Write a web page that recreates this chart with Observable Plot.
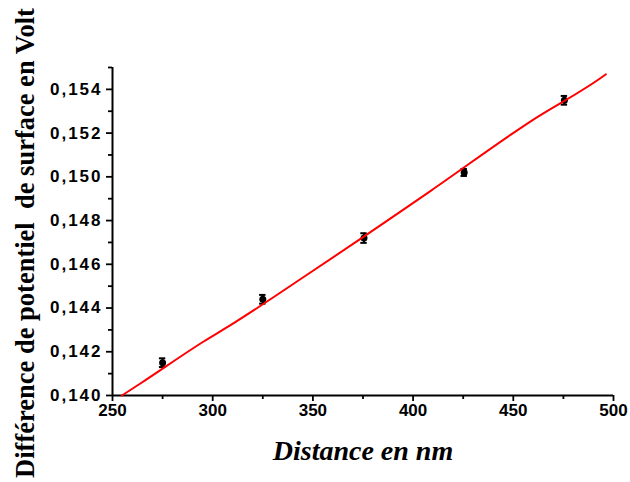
<!DOCTYPE html>
<html>
<head>
<meta charset="utf-8">
<script src="https://cdn.jsdelivr.net/npm/d3@7"></script>
<script src="https://cdn.jsdelivr.net/npm/@observablehq/plot@0.6"></script>
<style>
  html, body { margin: 0; padding: 0; background: #fff; }
  #chart { width: 630px; height: 482px; }
</style>
</head>
<body>
<div id="chart"></div>
<script>
// Measured points (distance in nm, potential difference in V) with error bars
const distance = [275, 325, 375.5, 425.5, 475.5];
const potential = [0.1415, 0.1444, 0.1472, 0.1502, 0.1535];
const errorBar = [0.0002, 0.0002, 0.00022, 0.00016, 0.0002];

// Red fitted curve
const fitDistance = [254.7, 264.1, 295.5, 309.1, 349.5, 408.8, 458.7, 493.6, 496.2];
const fitPotential = [0.1400, 0.14056, 0.14247, 0.14323, 0.14567, 0.14936, 0.15254, 0.15452, 0.15469];

// Axis ticks
const xTicks = [250, 300, 350, 400, 450, 500];
const xMinorTicks = [275, 325, 375, 425, 475];
const yTicks = [0.140, 0.142, 0.144, 0.146, 0.148, 0.150, 0.152, 0.154];
const yMinorTicks = [0.141, 0.143, 0.145, 0.147, 0.149, 0.151, 0.153, 0.155];

const xTitle = "Distance en nm";
const yTitle = "Différence de potentiel  de surface en Volt";

const points = distance.map((x, i) => ({x, y: potential[i], e: errorBar[i]}));
const fit = fitDistance.map((x, i) => ({x, y: fitPotential[i]}));

const tickFont = {fontSize: 17, fontWeight: "bold", fontFamily: "Liberation Sans, Arial, sans-serif", fill: "#000"};

const svg = Plot.plot({
  width: 630,
  height: 482,
  marginLeft: 112,
  marginRight: 17,
  marginTop: 67,
  marginBottom: 87,
  style: {background: "#fff", overflow: "visible"},
  x: {domain: [250, 500], label: null},
  y: {domain: [0.140, 0.155], label: null},
  marks: [
    Plot.axisX({ticks: xTicks, tickSize: 6, tickPadding: 2, strokeWidth: 1.8, stroke: "#000", label: null, ...tickFont}),
    Plot.axisX({ticks: xMinorTicks, tickSize: 4, strokeWidth: 1.8, stroke: "#000", label: null, tickFormat: () => ""}),
    Plot.axisY({ticks: yTicks, tickSize: 6, tickPadding: 4, strokeWidth: 1.8, stroke: "#000", label: null,
      tickFormat: d => d3.format(".3f")(d).replace(".", ","), ...tickFont}),
    Plot.axisY({ticks: yMinorTicks, tickSize: 4, strokeWidth: 1.8, stroke: "#000", label: null, tickFormat: () => ""}),
    Plot.ruleY([0.140], {stroke: "#000", strokeWidth: 2}),
    Plot.ruleX([250], {stroke: "#000", strokeWidth: 2}),
    Plot.ruleX(points, {x: "x", y1: d => d.y - d.e, y2: d => d.y + d.e, stroke: "#000", strokeWidth: 2}),
    Plot.ruleY(points, {y: d => d.y - d.e, x1: d => d.x - 1.6, x2: d => d.x + 1.6, stroke: "#000", strokeWidth: 2}),
    Plot.ruleY(points, {y: d => d.y + d.e, x1: d => d.x - 1.6, x2: d => d.x + 1.6, stroke: "#000", strokeWidth: 2}),
    Plot.dot(points, {x: "x", y: "y", r: 3.5, fill: "#000", stroke: "none"}),
    Plot.line(fit, {x: "x", y: "y", stroke: "#ff0000", strokeWidth: 2, curve: "monotone-x"})
  ]
});

const s = d3.select(svg);
// wider spacing in the y tick labels, as in the reference
s.selectAll("text")
  .filter(function() { return this.textContent.indexOf(",") >= 0; })
  .style("letter-spacing", "2px");
s.append("text")
  .attr("x", 363).attr("y", 460)
  .attr("text-anchor", "middle")
  .attr("font-family", "Liberation Serif, Times New Roman, serif")
  .attr("font-weight", "bold").attr("font-style", "italic")
  .attr("font-size", 28)
  .attr("fill", "#000")
  .text(xTitle);
s.append("text")
  .attr("transform", "translate(34,243) rotate(-90)")
  .attr("text-anchor", "middle")
  .attr("font-family", "Liberation Serif, Times New Roman, serif")
  .attr("font-weight", "bold")
  .attr("font-size", 26.5)
  .attr("fill", "#000")
  .text(yTitle);

document.getElementById("chart").appendChild(svg);
</script>
</body>
</html>
